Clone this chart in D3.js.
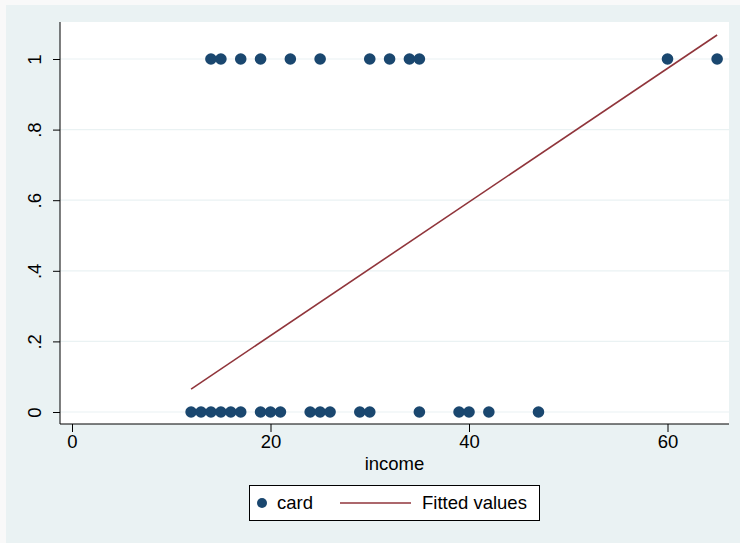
<!DOCTYPE html>
<html>
<head>
<meta charset="utf-8">
<script src="https://cdn.jsdelivr.net/npm/d3@7"></script>
<style>
  html, body { margin: 0; padding: 0; background: #f9f9f9; }
  svg { display: block; font-family: "Liberation Sans", Arial, sans-serif; }
</style>
</head>
<body>
<div id="chart"></div>
<script>
// income of people with card = 1 and card = 0
const incomeCard1 = [14, 15, 17, 19, 22, 25, 30, 32, 34, 35, 60, 65];
const incomeCard0 = [12, 13, 14, 15, 16, 17, 19, 20, 21, 24, 25, 26, 29, 30, 35, 39, 40, 42, 47];
// fitted line endpoints
const fitIncome = [12, 65];
const fitValues = [0.065, 1.068];
const xTicks = [0, 20, 40, 60];
const yTicks = [0, 0.2, 0.4, 0.6, 0.8, 1];
const yTickLabels = ["0", ".2", ".4", ".6", ".8", "1"];

const W = 740, H = 543;
const navy = "#1a476f", maroon = "#90353b", bg = "#eaf2f3";
const fs = 18.5;

const svg = d3.select("#chart").append("svg").attr("width", W).attr("height", H);

svg.append("rect").attr("x", 6).attr("y", 5).attr("width", W - 6).attr("height", H - 5).attr("fill", bg);

const plot = { left: 60, right: 729, top: 22, bottom: 424 };
svg.append("rect")
  .attr("x", plot.left).attr("y", plot.top)
  .attr("width", plot.right - plot.left).attr("height", plot.bottom - plot.top)
  .attr("fill", "#fff");

const x = d3.scaleLinear().domain([0, 60]).range([72, 667.5]);
const y = d3.scaleLinear().domain([0, 1]).range([412, 59]);

// gridlines
svg.append("g").selectAll("line").data(yTicks).join("line")
  .attr("x1", plot.left).attr("x2", plot.right)
  .attr("y1", d => y(d)).attr("y2", d => y(d))
  .attr("stroke", bg).attr("stroke-width", 1.2);

// axes
const yAxis = svg.append("g").attr("transform", `translate(${plot.left},0)`)
  .call(d3.axisLeft(y).tickValues(yTicks).tickFormat((d, i) => yTickLabels[i]).tickSize(7).tickSizeOuter(0));
yAxis.select(".domain").attr("d", `M0,${plot.top}V${plot.bottom}`).attr("stroke", "#000");
yAxis.selectAll("text")
  .attr("transform", "rotate(-90)")
  .attr("x", 0).attr("y", -25).attr("dy", "0.35em")
  .attr("text-anchor", "middle")
  .attr("font-size", fs).attr("font-family", "Liberation Sans, Arial, sans-serif").attr("fill", "#000");

const xAxis = svg.append("g").attr("transform", `translate(0,${plot.bottom})`)
  .call(d3.axisBottom(x).tickValues(xTicks).tickSize(8).tickSizeOuter(0));
xAxis.select(".domain").attr("d", `M${plot.left},0H${plot.right}`).attr("stroke", "#000");
xAxis.selectAll("text").attr("y", 11).attr("font-size", fs)
  .attr("font-family", "Liberation Sans, Arial, sans-serif").attr("fill", "#000");
svg.selectAll(".tick line").attr("stroke", "#000");

svg.append("text").attr("x", (plot.left + plot.right) / 2).attr("y", 470)
  .attr("text-anchor", "middle").attr("font-size", fs).text("income");

// points
const pts = incomeCard1.map(v => ({ x: v, y: 1 })).concat(incomeCard0.map(v => ({ x: v, y: 0 })));
svg.append("g").selectAll("circle").data(pts).join("circle")
  .attr("cx", d => x(d.x)).attr("cy", d => y(d.y)).attr("r", 5.8).attr("fill", navy);

// fitted line
const fit = fitIncome.map((v, i) => [v, fitValues[i]]);
svg.append("path").datum(fit)
  .attr("d", d3.line().x(d => x(d[0])).y(d => y(d[1])))
  .attr("fill", "none").attr("stroke", maroon).attr("stroke-width", 1.6);

// legend
const lg = svg.append("g");
lg.append("rect").attr("x", 249.5).attr("y", 485.5).attr("width", 290).attr("height", 35)
  .attr("fill", "#fff").attr("stroke", "#000").attr("stroke-width", 1);
lg.append("circle").attr("cx", 262).attr("cy", 503).attr("r", 5).attr("fill", navy);
lg.append("text").attr("x", 277).attr("y", 503).attr("dy", "0.35em").attr("font-size", fs).text("card");
lg.append("line").attr("x1", 340).attr("x2", 411).attr("y1", 503).attr("y2", 503)
  .attr("stroke", maroon).attr("stroke-width", 1.6);
lg.append("text").attr("x", 422).attr("y", 503).attr("dy", "0.35em").attr("font-size", fs).text("Fitted values");
</script>
</body>
</html>
